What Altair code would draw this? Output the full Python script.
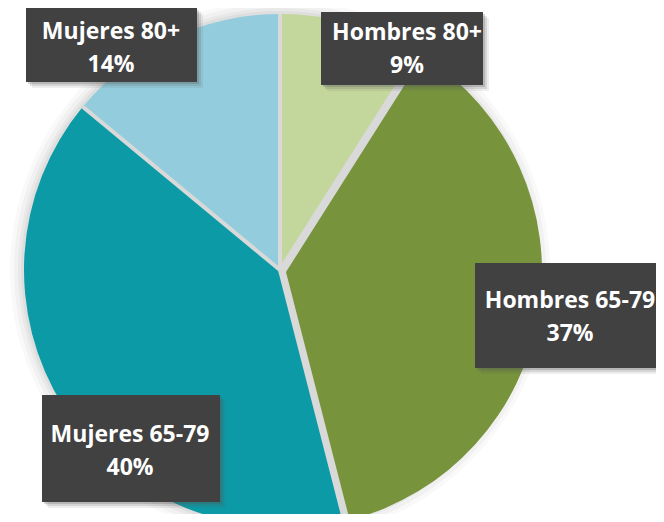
import altair as alt
import pandas as pd

categories = ["Hombres 80+", "Hombres 65-79", "Mujeres 65-79", "Mujeres 80+"]
values = [9, 37, 40, 14]
order = [0, 1, 2, 3]
colors = ["#c3d69b", "#77933c", "#0b9aa6", "#93cddd"]

df = pd.DataFrame({"cat": categories, "value": values, "ord": order})

W, H = 648, 506
CX, CY, R = 272, 262, 256
EXPLODED = "Hombres 65-79"
EX_DX, EX_DY = 6, 2
GAP_COLOR = "#d9d9d9"

base = alt.Chart(df).transform_joinaggregate(
    total="sum(value)"
).transform_window(
    cum="sum(value)", sort=[alt.SortField("ord")], frame=[None, 0]
).transform_calculate(
    t1="2*PI*datum.cum/datum.total",
    t0="2*PI*(datum.cum-datum.value)/datum.total",
    label="datum.cat + '\\n' + format(datum.value, '.0f') + '%'",
)

color = alt.Color("cat:N", scale=alt.Scale(domain=categories, range=colors), legend=None)

one = base.transform_filter("datum.ord == 0")

# soft glow around the pie
layers = []
for extra, op in [(14, 0.025), (10, 0.03), (6, 0.035), (3, 0.04)]:
    layers.append(one.mark_arc(
        outerRadius=R + extra, theta=0, theta2=6.2832, color="#000000", opacity=op
    ).encode(x=alt.value(CX), y=alt.value(CY)))

# grey underlay visible in the gaps
layers.append(one.mark_arc(
    outerRadius=R - 1, theta=0, theta2=6.2832, color=GAP_COLOR
).encode(x=alt.value(CX), y=alt.value(CY)))


def pie_layer(filt, dx, dy):
    return base.transform_filter(filt).mark_arc(outerRadius=R).encode(
        theta=alt.Theta("t0:Q", scale=None),
        theta2="t1:Q",
        color=color,
        x=alt.value(CX + dx),
        y=alt.value(CY + dy),
    )


layers.append(pie_layer(f"datum.cat != '{EXPLODED}'", 0, 0))
layers.append(pie_layer(f"datum.cat == '{EXPLODED}'", EX_DX, EX_DY))

# separators between slices
layers.append(base.transform_calculate(
    ex=f"{CX} + {R}*sin(datum.t0)",
    ey=f"{CY} - {R}*cos(datum.t0)",
).mark_rule(color=GAP_COLOR, strokeWidth=4).encode(
    x=alt.X("ex:Q", scale=None, axis=None),
    y=alt.Y("ey:Q", scale=None, axis=None),
    x2=alt.value(CX),
    y2=alt.value(CY),
))

# label boxes: category -> (x0, x1, y0, y1, text x, first-line y)
label_boxes = {
    "Mujeres 80+": (18, 189, 0, 74, 103, 24),
    "Hombres 80+": (313, 475, 4, 77, 399, 25),
    "Hombres 65-79": (467, 660, 255, 360, 562, 293),
    "Mujeres 65-79": (34, 212, 387, 494, 122, 427),
}

for cat, (x0, x1, y0, y1, tx, ty) in label_boxes.items():
    sel = base.transform_filter(f"datum.cat == '{cat}'")
    for off, op in [(6, 0.10), (4, 0.16), (2, 0.24)]:
        layers.append(sel.mark_rect(color="#555555", opacity=op).encode(
            x=alt.value(x0 + off), x2=alt.value(x1 + off),
            y=alt.value(y0 + off), y2=alt.value(y1 + off),
        ))
    layers.append(sel.mark_rect(color="#414141").encode(
        x=alt.value(x0), x2=alt.value(x1),
        y=alt.value(y0), y2=alt.value(y1),
    ))
    layers.append(sel.mark_text(
        color="white", font="Open Sans", fontWeight="bold", fontSize=23,
        lineBreak="\n", lineHeight=33, align="center", baseline="middle",
    ).encode(
        text="label:N",
        x=alt.value(tx),
        y=alt.value(ty),
    ))

chart = alt.layer(*layers).properties(
    width=W, height=H, padding=0,
    autosize=alt.AutoSizeParams(type="none"),
    background="white",
).configure_view(stroke=None)

chart.save("out.html", embed_options={"renderer": "svg", "actions": False})
